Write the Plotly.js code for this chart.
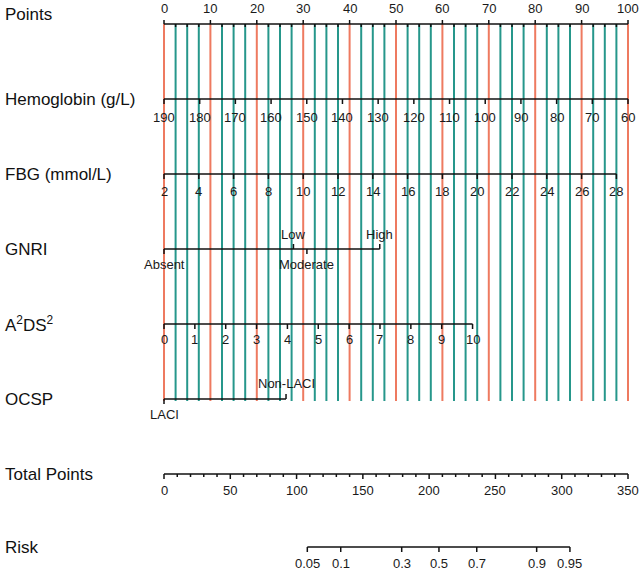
<!DOCTYPE html>
<html>
<head>
<meta charset="utf-8">
<script src="https://cdn.plot.ly/plotly-3.0.1.min.js"></script>
<style>html,body{margin:0;padding:0;background:#fff;}#chart{width:644px;height:574px;}</style>
</head>
<body>
<div id="chart"></div>
<script>
// ---------------- DATA ----------------
const pointsTicks = [0,10,20,30,40,50,60,70,80,90,100];
const pointsMinorStep = 2.5;

const hbLabels = [190,180,170,160,150,140,130,120,110,100,90,80,70,60];
const hbRange = [190, 60];          // value at 0 points, value at 100 points
const hbMaxPoints = 100;

const fbgLabels = [2,4,6,8,10,12,14,16,18,20,22,24,26,28];
const fbgRange = [2, 28];
const fbgMaxPoints = 97.5;

const gnriLevels = ['Absent','Low','Moderate','High'];
const gnriPoints = [0, 27.9, 30.8, 46.5];
const gnriSide   = ['below','above','below','above'];

const a2ds2Labels = [0,1,2,3,4,5,6,7,8,9,10];
const a2ds2MaxPoints = 66.5;        // points at A2DS2 = 10

const ocspLevels = ['LACI','Non-LACI'];
const ocspPoints = [0, 26.3];
const ocspSide   = ['below','above'];

const totalTicks = [0,50,100,150,200,250,300,350];
const totalMinorStep = 10;
const totalMax = 350;

const riskLabels = ['0.05','0.1','0.3','0.5','0.7','0.9','0.95'];
const riskTotalPoints = [108.1,133.3,179.3,207.4,235.9,281.1,306.2];

const rowNames = ['Points','Hemoglobin (g/L)','FBG (mmol/L)','GNRI','A<sup>2</sup>DS<sup>2</sup>','OCSP','Total Points','Risk'];

// ---------------- LAYOUT CONSTANTS ----------------
const W = 644, H = 574;
const X0 = 164, PXPT = 4.64;
const rowY = {points:24, hb:99, fbg:174, gnri:249, a2:324, ocsp:399, total:474, risk:547};
const rowLabelY = [14, 99, 174, 249, 324, 399, 474, 547];
const RED = '#EE7A60', TEAL = '#26978B';
const tickFont = {family:'Liberation Sans, Arial, sans-serif', size:13, color:'#1a1a1a'};
const nameFont = {family:'Liberation Sans, Arial, sans-serif', size:17, color:'#111'};

const hbPt = v => (hbRange[0]-v)/(hbRange[0]-hbRange[1])*hbMaxPoints;
const fbgPt = v => (v-fbgRange[0])/(fbgRange[1]-fbgRange[0])*fbgMaxPoints;
const a2Pt = v => v/a2ds2Labels[a2ds2Labels.length-1]*a2ds2MaxPoints;
const totPt = v => v/totalMax*100;

const traces = [];
const annotations = [];

// vertical reference lines
const redX=[], redY=[], tealX=[], tealY=[];
for (let p=0; p<=100+1e-9; p+=pointsMinorStep){
  const isMajor = Math.abs(p/10 - Math.round(p/10))<1e-9;
  const X = isMajor?redX:tealX, Y = isMajor?redY:tealY;
  X.push(p,p,null); Y.push(rowY.points, 401, null);
}
traces.push({x:tealX,y:tealY,mode:'lines',line:{color:TEAL,width:2},hoverinfo:'skip'});
traces.push({x:redX,y:redY,mode:'lines',line:{color:RED,width:2},hoverinfo:'skip'});

// axis helper
const axX=[], axY=[];
function hline(p0,p1,y){ axX.push(p0,p1,null); axY.push(y,y,null); }
function tick(p,y,len){ axX.push(p,p,null); axY.push(y,y+len,null); }
function label(p,y,txt,anchor){ annotations.push({x:p,y:y,xref:'x',yref:'y',text:txt,showarrow:false,font:tickFont,xanchor:'center',yanchor:anchor||'middle'}); }

// Points axis
hline(0,100,rowY.points);
for (let p=0; p<=100+1e-9; p+=pointsMinorStep){
  const isMajor = Math.abs(p/10 - Math.round(p/10))<1e-9;
  tick(p,rowY.points, isMajor?-4:3);
}
pointsTicks.forEach(v=>label(v,8,String(v)));

// Hemoglobin
hline(hbPt(hbRange[0]),hbPt(hbRange[1]),rowY.hb);
hbLabels.forEach(v=>{tick(hbPt(v),rowY.hb,5); label(hbPt(v),117,String(v));});

// FBG
hline(fbgPt(fbgRange[0]),fbgPt(fbgRange[1]),rowY.fbg);
fbgLabels.forEach(v=>{tick(fbgPt(v),rowY.fbg,5); label(fbgPt(v),191,String(v));});

// GNRI
hline(Math.min(...gnriPoints),Math.max(...gnriPoints),rowY.gnri);
gnriLevels.forEach((l,i)=>{
  const up = gnriSide[i]==='above';
  tick(gnriPoints[i],rowY.gnri, up?-5:5);
  label(gnriPoints[i], up?234:264, l);
});

// A2DS2
hline(a2Pt(0),a2Pt(10),rowY.a2);
a2ds2Labels.forEach(v=>{tick(a2Pt(v),rowY.a2,5); label(a2Pt(v),339,String(v));});

// OCSP
hline(Math.min(...ocspPoints),Math.max(...ocspPoints),rowY.ocsp);
ocspLevels.forEach((l,i)=>{
  const up = ocspSide[i]==='above';
  tick(ocspPoints[i],rowY.ocsp, up?-5:5);
  label(ocspPoints[i], up?383:414, l);
});

// Total points
hline(totPt(0),totPt(totalMax),rowY.total);
for (let t=0; t<=totalMax; t+=totalMinorStep){
  const isMajor = totalTicks.includes(t);
  tick(totPt(t),rowY.total,isMajor?5:3);
}
totalTicks.forEach(v=>label(totPt(v),490,String(v)));

// Risk
hline(totPt(riskTotalPoints[0]),totPt(riskTotalPoints[riskTotalPoints.length-1]),rowY.risk);
riskLabels.forEach((l,i)=>{tick(totPt(riskTotalPoints[i]),rowY.risk,5); label(totPt(riskTotalPoints[i]),563,l);});

traces.push({x:axX,y:axY,mode:'lines',line:{color:'#111',width:1.5},hoverinfo:'skip'});

// row names
rowNames.forEach((n,i)=>annotations.push({x:3/PXPT - X0/PXPT, y:rowLabelY[i], xref:'x', yref:'y', text:n, showarrow:false, font:nameFont, xanchor:'left', yanchor:'middle'}));

const layout = {
  width:W, height:H, margin:{l:0,r:0,t:0,b:0},
  paper_bgcolor:'#fff', plot_bgcolor:'#fff', showlegend:false,
  xaxis:{range:[-X0/PXPT,(W-X0)/PXPT],visible:false,fixedrange:true},
  yaxis:{range:[H,0],visible:false,fixedrange:true},
  annotations:annotations
};
Plotly.newPlot('chart',traces,layout,{displayModeBar:false,staticPlot:true});
</script>
</body>
</html>
